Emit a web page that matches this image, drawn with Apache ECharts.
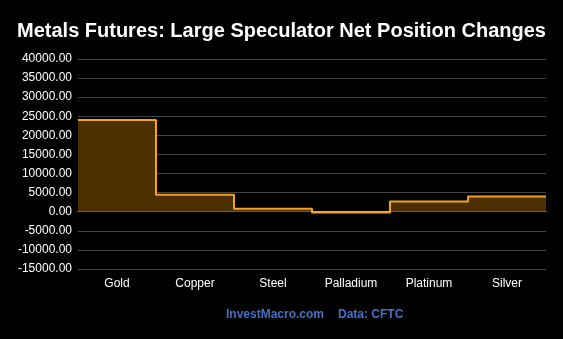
<!DOCTYPE html>
<html><head><meta charset="utf-8">
<script src="https://cdn.jsdelivr.net/npm/echarts@6/dist/echarts.min.js"></script>
<style>html,body{margin:0;padding:0;background:#000;}#c{width:563px;height:339px;}</style>
</head><body><div id="c"></div>
<script>
const categories = ['Gold', 'Copper', 'Steel', 'Palladium', 'Platinum', 'Silver'];
const netChanges = [24000, 4450, 750, -200, 2700, 4000];
const yTicks = { min: -15000, max: 40000, interval: 5000 };

// step points: each category spans [i, i+1] on a hidden value axis
const stepData = netChanges.map((v, i) => [i, v]);
stepData.push([categories.length, netChanges[netChanges.length - 1]]);

const font = 'Liberation Sans, Arial, sans-serif';
const chart = echarts.init(document.getElementById('c'));
chart.setOption({
  backgroundColor: '#000',
  animation: false,
  title: [{
    text: 'Metals Futures: Large Speculator Net Position Changes',
    left: 'center', top: 16,
    textStyle: { color: '#fff', fontSize: 20, fontWeight: 'bold', fontFamily: font }
  }],
  graphic: [{
    type: 'text', left: 226, top: 309,
    style: { text: 'InvestMacro.com', fill: '#4472c4', font: 'bold 12px ' + font }
  }, {
    type: 'text', left: 338, top: 309,
    style: { text: 'Data: CFTC', fill: '#4472c4', font: 'bold 12px ' + font }
  }],
  grid: { left: 78, right: 17, top: 59, bottom: 70 },
  xAxis: [{
    type: 'category', data: categories, boundaryGap: true, position: 'bottom',
    axisLine: { show: false, onZero: false }, axisTick: { show: false },
    axisLabel: { color: '#fff', fontSize: 12, margin: 9, fontFamily: font },
    splitLine: { show: false }
  }, {
    type: 'value', min: 0, max: categories.length, position: 'bottom',
    axisLine: { show: true, onZero: true, lineStyle: { color: '#f3e3c8', width: 1 } },
    axisTick: { show: false }, axisLabel: { show: false }, splitLine: { show: false }
  }],
  yAxis: {
    type: 'value', min: yTicks.min, max: yTicks.max, interval: yTicks.interval,
    axisLine: { show: false }, axisTick: { show: false },
    axisLabel: { color: '#fff', fontSize: 12, margin: 6, fontFamily: font,
      formatter: v => v.toFixed(2) },
    splitLine: { lineStyle: { color: '#444', width: 1 } }
  },
  series: [{
    type: 'line', xAxisIndex: 1, step: 'end', data: stepData,
    symbol: 'none',
    lineStyle: { color: '#f5a31a', width: 2 },
    areaStyle: { color: '#4d2f02', opacity: 1, origin: 0 }
  }]
});
</script></body></html>
